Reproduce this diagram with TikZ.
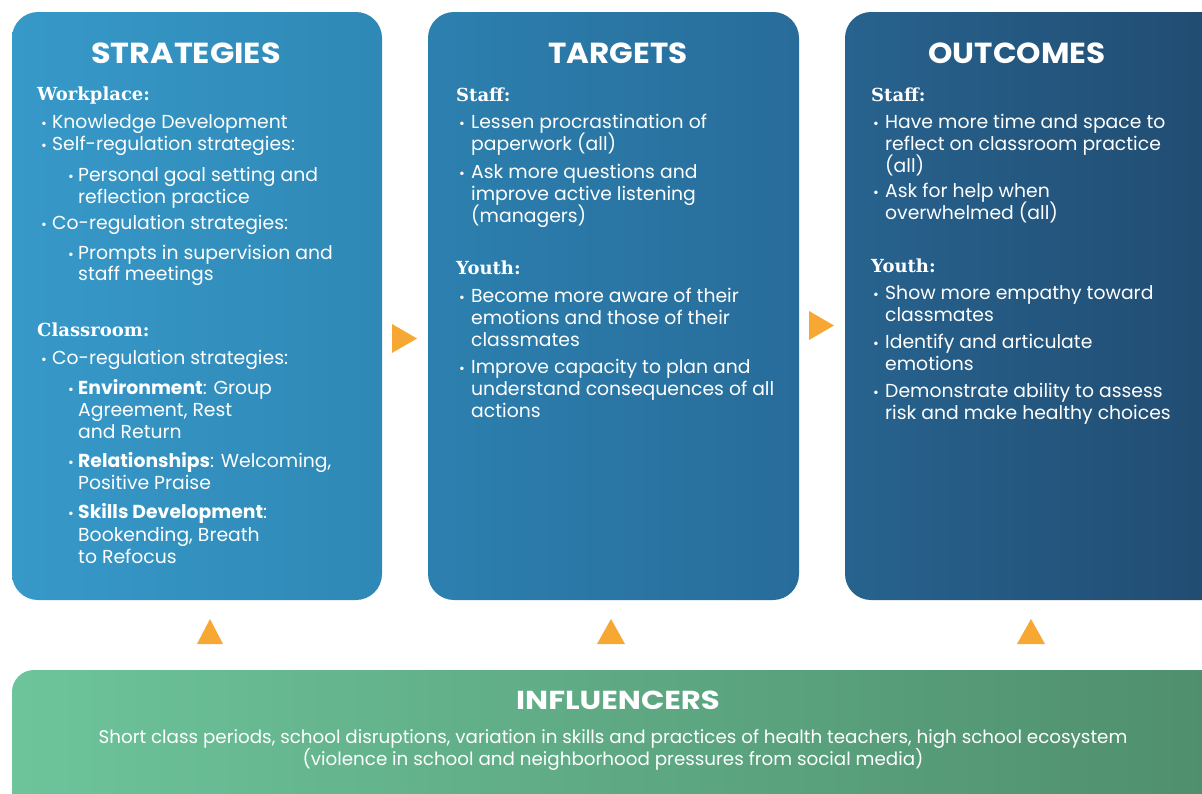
\documentclass[tikz,border=0pt]{standalone}
\usepackage{fontspec}
\setmainfont{Poppins}
\newfontfamily\slab{DejaVu Serif}
\definecolor{bAl}{HTML}{3799C9}
\definecolor{bAr}{HTML}{2F88B5}
\definecolor{bBl}{HTML}{2C80AF}
\definecolor{bBr}{HTML}{286C9A}
\definecolor{bCl}{HTML}{27638F}
\definecolor{bCr}{HTML}{214B70}
\definecolor{gL}{HTML}{6DC49B}
\definecolor{gR}{HTML}{4F8E6D}
\definecolor{orng}{HTML}{F6A833}
\tikzset{
  panel/.style={rounded corners=26pt, draw=none, inner sep=0pt},
  hdr/.style={text=white, font=\fontsize{29}{32}\selectfont\bfseries, anchor=base, inner sep=0pt},
  sub/.style={text=white, font=\fontsize{18}{20}\selectfont\slab\bfseries, anchor=base west, inner sep=0pt},
  txt/.style={text=white, font=\fontsize{18.8}{22}\selectfont, anchor=base west, inner sep=0pt},
  bul/.style={text=white, font=\fontsize{14}{20}\selectfont, anchor=base west, inner sep=0pt},
  tri/.style={fill=orng, draw=none},
  inf/.style={text=white, font=\fontsize{18.3}{22}\selectfont, anchor=base, inner sep=0pt}
}
\newcommand\tl[4]{\node[txt] (#1) at (#2,#3) {#4};}
\newcommand\bi[5]{\node[bul] (#1b) at (#2,#4) {•};\node[txt] (#1) at (#3,#4) {#5};}
\newcommand\wide[1]{\scalebox{1.07}[1]{#1}}
\begin{document}
\begin{tikzpicture}[x=1pt,y=-1pt]
\clip (0,0) rectangle (1202,793);
\fill[white] (0,0) rectangle (1202,793);
% panels
\shade[panel, left color=bAl, right color=bAr] (12,12) rectangle (382,600);
\shade[panel, left color=bBl, right color=bBr] (428,12) rectangle (799,600);
\shade[panel, left color=bCl, right color=bCr] (845,12) rectangle (1230,600);
\shade[panel, rounded corners=22pt, left color=gL, right color=gR] (12,670) rectangle (1230,820);
% arrows
\fill[tri] (392,324) -- (417,338.5) -- (392,353) -- cycle;
\fill[tri] (809,311) -- (834,325.5) -- (809,340) -- cycle;
\fill[tri] (197,644) -- (210,619) -- (223,644) -- cycle;
\fill[tri] (597,644) -- (611,619) -- (625,644) -- cycle;
\fill[tri] (1017,644) -- (1031,619) -- (1045,644) -- cycle;
% headers
\node[hdr] (hS) at (186,63) {\scalebox{1.1}[1]{STRATEGIES}};
\node[hdr] (hT) at (618,63) {\wide{TARGETS}};
\node[hdr] (hO) at (1017,63) {\wide{OUTCOMES}};
% box 1
\node[sub] (wp) at (37,100) {Workplace:};
\bi{a1}{41}{52}{128}{Knowledge Development}
\bi{a2}{41}{52}{150}{Self-regulation strategies:}
\bi{a3}{68}{78}{181}{Personal goal setting and}
\tl{a3x}{78}{203}{reflection practice}
\bi{a4}{41}{52}{229}{Co-regulation strategies:}
\bi{a5}{68}{78}{259}{Prompts in supervision and}
\tl{a5x}{78}{280}{staff meetings}
\node[sub] (cr) at (37,336) {Classroom:};
\bi{a6}{41}{52}{364}{Co-regulation strategies:}
\bi{a7}{68}{78}{394}{\textbf{Environment}: Group}
\tl{a7x}{78}{416}{Agreement, Rest}
\tl{a7y}{78}{438}{and Return}
\bi{a8}{68}{78}{467}{\textbf{Relationships}: Welcoming,}
\tl{a8x}{78}{489}{Positive Praise}
\bi{a9}{68}{78}{518}{\textbf{Skills Development}:}
\tl{a9x}{78}{541}{Bookending, Breath}
\tl{a9y}{78}{563}{to Refocus}
% box 2
\node[sub] (st2) at (456,101) {Staff:};
\bi{b1}{459}{471}{128}{Lessen procrastination of}
\tl{b1x}{471}{150}{paperwork (all)}
\bi{b2}{459}{471}{178}{Ask more questions and}
\tl{b2x}{471}{200}{improve active listening}
\tl{b2y}{471}{222}{(managers)}
\node[sub] (yt2) at (456,274) {Youth:};
\bi{b3}{459}{471}{302}{Become more aware of their}
\tl{b3x}{471}{324}{emotions and those of their}
\tl{b3y}{471}{346}{classmates}
\bi{b4}{459}{471}{373}{Improve capacity to plan and}
\tl{b4x}{471}{395}{understand consequences of all}
\tl{b4y}{471}{417}{actions}
% box 3
\node[sub] (st3) at (871,101) {Staff:};
\bi{c1}{873}{885}{128}{Have more time and space to}
\tl{c1x}{885}{150}{reflect on classroom practice}
\tl{c1y}{885}{172}{(all)}
\bi{c2}{873}{885}{197}{Ask for help when}
\tl{c2x}{885}{219}{overwhelmed (all)}
\node[sub] (yt3) at (871,272) {Youth:};
\bi{c3}{873}{885}{299}{Show more empathy toward}
\tl{c3x}{885}{321}{classmates}
\bi{c4}{873}{885}{348}{Identify and articulate}
\tl{c4x}{885}{370}{emotions}
\bi{c5}{873}{885}{397}{Demonstrate ability to assess}
\tl{c5x}{885}{419}{risk and make healthy choices}
% influencers
\node[hdr, font=\fontsize{26}{28}\selectfont\bfseries] (hI) at (618,709) {\scalebox{1.18}[1]{INFLUENCERS}};
\node[inf] (i1) at (613,743) {Short class periods, school disruptions, variation in skills and practices of health teachers, high school ecosystem};
\node[inf] (i2) at (613,765) {(violence in school and neighborhood pressures from social media)};
\end{tikzpicture}
\end{document}
